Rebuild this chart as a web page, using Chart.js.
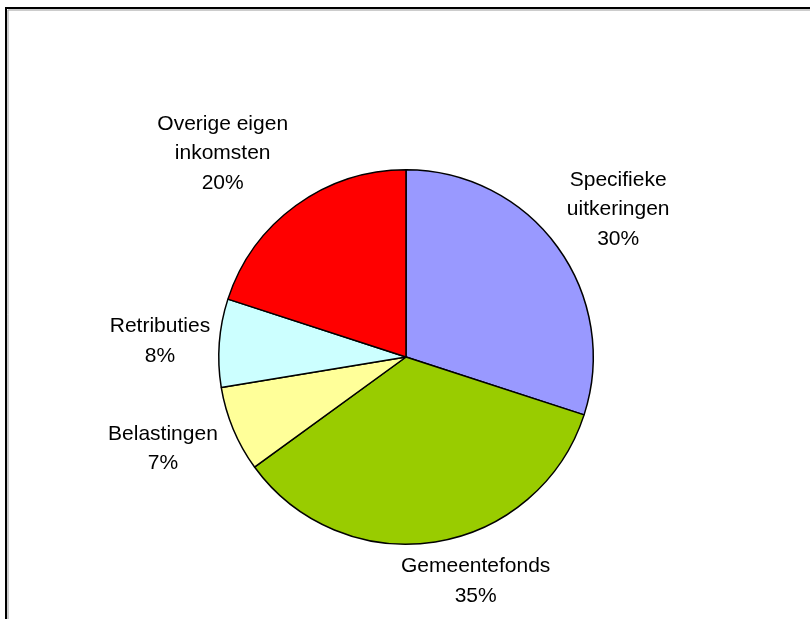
<!DOCTYPE html>
<html>
<head>
<meta charset="utf-8">
<script src="https://cdn.jsdelivr.net/npm/chart.js@4.4.1/dist/chart.umd.min.js"></script>
<style>
  html, body { margin: 0; padding: 0; background: #fff; }
  #wrap { position: relative; width: 810px; height: 619px; }
  canvas { display: block; }
</style>
</head>
<body>
<div id="wrap"><canvas id="c" width="810" height="619"></canvas></div>
<script>
// ---- data ----
const categories = ["Specifieke uitkeringen", "Gemeentefonds", "Belastingen", "Retributies", "Overige eigen inkomsten"];
const labelLines = [["Specifieke", "uitkeringen"], ["Gemeentefonds"], ["Belastingen"], ["Retributies"], ["Overige eigen", "inkomsten"]];
const shares = [30, 35, 7.4, 7.6, 20];

// ---- styles / layout ----
const sliceColors = ["#9999FF", "#99CC00", "#FFFF99", "#CCFFFF", "#FF0000"];
// label anchors relative to pie centre, in units of the pie radius (x = text centre, y = first baseline)
const labelAnchors = [[1.133, -0.915], [0.372, 1.149], [-1.298, 0.441], [-1.314, -0.133], [-0.979, -1.213]];
const FONT_PX = 21, LINE_H = 29.5;

const frame = {
  id: 'frame',
  beforeDraw(chart) {
    const ctx = chart.ctx;
    ctx.save();
    ctx.fillStyle = '#fff';
    ctx.fillRect(0, 0, chart.width, chart.height);
    ctx.strokeStyle = '#000';
    ctx.lineWidth = 2;
    ctx.beginPath();
    ctx.moveTo(6, 619);
    ctx.lineTo(6, 8);
    ctx.lineTo(810, 8);
    ctx.stroke();
    ctx.strokeStyle = '#999';
    ctx.lineWidth = 1;
    ctx.beginPath();
    ctx.moveTo(8, 619);
    ctx.lineTo(8, 10);
    ctx.lineTo(810, 10);
    ctx.stroke();
    ctx.restore();
  }
};

const outerLabels = {
  id: 'outerLabels',
  afterDraw(chart) {
    const ctx = chart.ctx;
    const meta = chart.getDatasetMeta(0);
    const total = shares.reduce((a, b) => a + b, 0);
    ctx.save();
    ctx.fillStyle = '#000';
    ctx.font = FONT_PX + 'px "Liberation Sans", Arial, sans-serif';
    ctx.textAlign = 'center';
    ctx.textBaseline = 'alphabetic';
    meta.data.forEach((arc, i) => {
      const r = arc.outerRadius;
      const x = arc.x + labelAnchors[i][0] * r;
      let y = arc.y + labelAnchors[i][1] * r;
      const lines = labelLines[i].concat([Math.round(shares[i] / total * 100) + '%']);
      lines.forEach((t, k) => ctx.fillText(t, x, y + k * LINE_H));
    });
    ctx.restore();
  }
};

new Chart(document.getElementById('c'), {
  type: 'pie',
  data: {
    labels: categories,
    datasets: [{
      data: shares,
      backgroundColor: sliceColors,
      borderColor: '#000',
      borderWidth: 1.5
    }]
  },
  options: {
    responsive: false,
    animation: false,
    layout: { padding: { left: 218, right: 216, top: 169, bottom: 74 } },
    plugins: { legend: { display: false }, tooltip: { enabled: false } }
  },
  plugins: [frame, outerLabels]
});
</script>
</body>
</html>
